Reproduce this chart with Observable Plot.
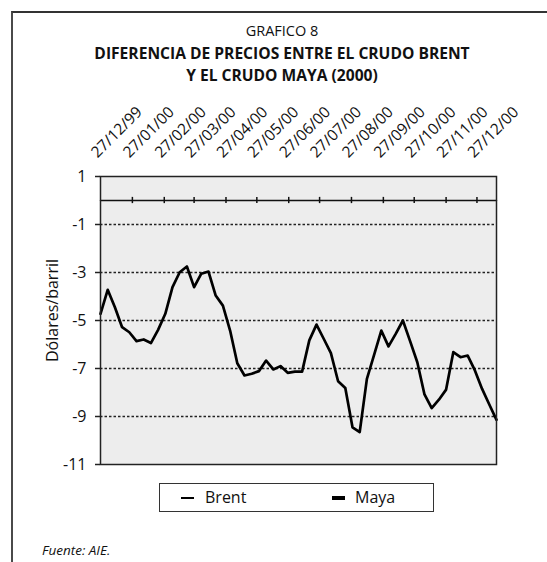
<!DOCTYPE html>
<html>
<head>
<meta charset="utf-8">
<script src="https://cdn.jsdelivr.net/npm/d3@7"></script>
<script src="https://cdn.jsdelivr.net/npm/@observablehq/plot@0.6"></script>
<style>
  html, body { margin: 0; padding: 0; background: #fff; }
  body { width: 547px; height: 562px; overflow: hidden; position: relative; font-family: "Open Sans", sans-serif; color: #111; }
  .border { position: absolute; left: 11px; top: 11px; width: 600px; height: 600px; border-left: 2px solid #4a4a4a; border-top: 2px solid #333; }
  .t { position: absolute; left: 0; width: 564px; text-align: center; white-space: nowrap; line-height: 16px; }
  #chart { position: absolute; left: 0; top: 90px; }
  .legend { position: absolute; left: 159px; top: 483px; width: 275px; height: 29px; box-sizing: border-box; border: 1px solid #333; background: #fff; }
  .sw { position: absolute; background: #000; }
  .lt { position: absolute; font-size: 16px; line-height: 16px; top: 5px; }
  .foot { position: absolute; left: 42px; top: 543px; font-size: 13.5px; font-style: italic; line-height: 14px; }
</style>
</head>
<body>
<div class="border"></div>
<div class="t" style="top:23px;font-size:14.5px;">GRAFICO 8</div>
<div class="t" style="top:45px;font-size:15.6px;font-weight:bold;">DIFERENCIA DE PRECIOS ENTRE EL CRUDO BRENT</div>
<div class="t" style="top:67px;font-size:15.6px;font-weight:bold;">Y EL CRUDO MAYA (2000)</div>
<div id="chart"></div>
<div class="legend">
  <div class="sw" style="left:21px;top:13px;width:13px;height:1.5px;"></div>
  <div class="lt" style="left:45px;">Brent</div>
  <div class="sw" style="left:172px;top:12px;width:13px;height:4px;"></div>
  <div class="lt" style="left:195px;">Maya</div>
</div>
<div class="foot">Fuente: AIE.</div>
<script>
// Tick labels on the top (date) axis
const tickLabels = ["27/12/99","27/01/00","27/02/00","27/03/00","27/04/00","27/05/00","27/06/00","27/07/00","27/08/00","27/09/00","27/10/00","27/11/00","27/12/00"];
// Y axis ticks
const yTicks = [1, -1, -3, -5, -7, -9, -11];
const gridValues = [-1, -3, -5, -7, -9];
// Weekly series, starting 27/12/99
const startDate = "1999-12-27";
const mayaValues = [
  -4.72, -3.72, -4.45, -5.28, -5.49, -5.86, -5.79, -5.94, -5.39, -4.72,
  -3.61, -2.99, -2.75, -3.61, -3.05, -2.96, -3.96, -4.38, -5.42, -6.78,
  -7.29, -7.22, -7.11, -6.67, -7.04, -6.90, -7.18, -7.13, -7.13, -5.83,
  -5.17, -5.76, -6.36, -7.53, -7.81, -9.45, -9.65, -7.43, -6.43, -5.42,
  -6.08, -5.56, -5.00, -5.86, -6.74, -8.08, -8.65, -8.30, -7.88, -6.32,
  -6.53, -6.46, -7.08, -7.85, -8.50, -9.14
];
const brentValues = mayaValues.map(() => 0);

const parseLabel = s => {
  const [d, m, y] = s.split("/").map(Number);
  return new Date(Date.UTC((y > 50 ? 1900 : 2000) + y, m - 1, d));
};
const tickDates = tickLabels.map(parseLabel);
const start = new Date(startDate + "T00:00:00Z");
const dates = mayaValues.map((_, i) => d3.utcDay.offset(start, 7 * i));
const maya = mayaValues.map((v, i) => ({date: dates[i], v}));
const brent = brentValues.map((v, i) => ({date: dates[i], v}));

const chart = Plot.plot({
  width: 547,
  height: 380,
  marginTop: 86,
  marginRight: 51,
  marginBottom: 6,
  marginLeft: 100,
  style: {fontFamily: "Open Sans, sans-serif", fontSize: "16px", color: "#111", background: "transparent", overflow: "visible"},
  x: {type: "utc", domain: [dates[0], dates[dates.length - 1]], axis: null},
  y: {domain: [-11, 1], axis: null},
  marks: [
    Plot.frame({fill: "#ededed"}),
    Plot.ruleY(gridValues, {stroke: "#222", strokeWidth: 1.3, strokeDasharray: "2.5,2"}),
    Plot.line(brent, {x: "date", y: "v", stroke: "#111", strokeWidth: 1.5}),
    Plot.ruleX(tickDates.slice(1), {y1: -0.13, y2: 0.13, stroke: "#111", strokeWidth: 1.5}),
    Plot.line(maya, {x: "date", y: "v", stroke: "#000", strokeWidth: 2.7}),
    Plot.frame({stroke: "#222", strokeWidth: 1.5}),
    Plot.axisY({ticks: yTicks, tickSize: 5, tickPadding: 9, tickFormat: d => String(d), stroke: "#222", strokeWidth: 1.5, fontSize: 16, label: null}),
    Plot.text(tickDates, {x: d => d, frameAnchor: "top", text: (d, i) => tickLabels[i], rotate: -45, textAnchor: "start", lineAnchor: "bottom", dx: -3, dy: -18, fontSize: 15.5, fill: "#111"}),
    Plot.text(["Dólares/barril"], {frameAnchor: "left", text: d => d, rotate: -90, textAnchor: "middle", lineAnchor: "middle", dx: -48, dy: -10, fontSize: 16, fill: "#111"})
  ]
});
document.getElementById("chart").appendChild(chart);
</script>
</body>
</html>
